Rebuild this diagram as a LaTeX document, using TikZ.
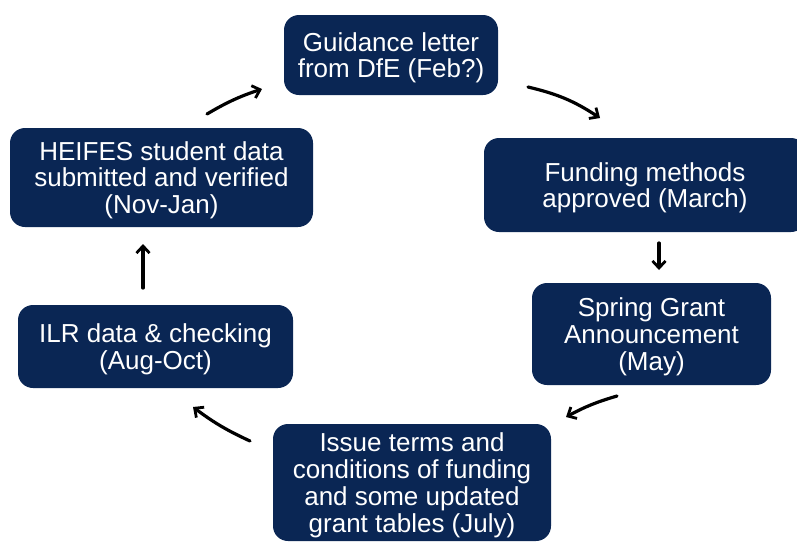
\documentclass[tikz,border=0pt]{standalone}
\usepackage{fontspec}
\setmainfont{Liberation Sans}
\usetikzlibrary{arrows.meta}
\definecolor{navy}{RGB}{10,38,84}
\tikzset{
  box/.style={fill=navy, rounded corners=15pt, text=white, align=center,
    inner sep=0pt, text depth=0pt, font=\fontsize{26}{26.8}\selectfont},
  flow/.style={line width=3.2pt, black, -{Straight Barb[length=7pt,width=13pt,line width=2.8pt]}, line cap=round}
}
\begin{document}
\begin{tikzpicture}[x=1pt,y=-1pt]
\useasboundingbox (0,0) rectangle (797,542);
\clip (0,0) rectangle (797,542);
% boxes
\node[box, minimum width=214pt, minimum height=80pt] (guid) at (391,55) {Guidance letter\\from DfE (Feb?)};
\node[box, minimum width=322pt, minimum height=94pt] (fund) at (645,185) {Funding methods\\approved (March)};
\node[box, minimum width=239pt, minimum height=102pt] (spring) at (651.5,334) {Spring Grant\\Announcement\\(May)};
\node[box, minimum width=278pt, minimum height=117pt] (issue) at (412,482.5) {Issue terms and\\conditions of funding\\and some updated\\grant tables (July)};
\node[box, minimum width=275pt, minimum height=83pt] (ilr) at (155.5,346.5) {ILR data \& checking\\(Aug-Oct)};
\node[box, minimum width=303pt, minimum height=99pt] (heifes) at (161.5,177.5) {HEIFES student data\\submitted and verified\\(Nov-Jan)};
% arrow endpoints
\coordinate (a1s) at (207,114);
\coordinate (a1e) at (262,89);
\coordinate (a2s) at (528,87);
\coordinate (a2e) at (600,118);
\coordinate (a3s) at (659,243);
\coordinate (a3e) at (659,270);
\coordinate (a4s) at (617,396);
\coordinate (a4e) at (566,417);
\coordinate (a5s) at (250,441);
\coordinate (a5e) at (193,407);
\coordinate (a6s) at (143,288);
\coordinate (a6e) at (143,244);
% arrows
\draw[flow] (a1s) to[bend left=6] (a1e);
\draw[flow] (a2s) to[bend left=10] (a2e);
\draw[flow] (a3s) -- (a3e);
\draw[flow] (a4s) to[bend right=6] (a4e);
\draw[flow] (a5s) to[bend left=6] (a5e);
\draw[flow] (a6s) -- (a6e);
\end{tikzpicture}
\end{document}
